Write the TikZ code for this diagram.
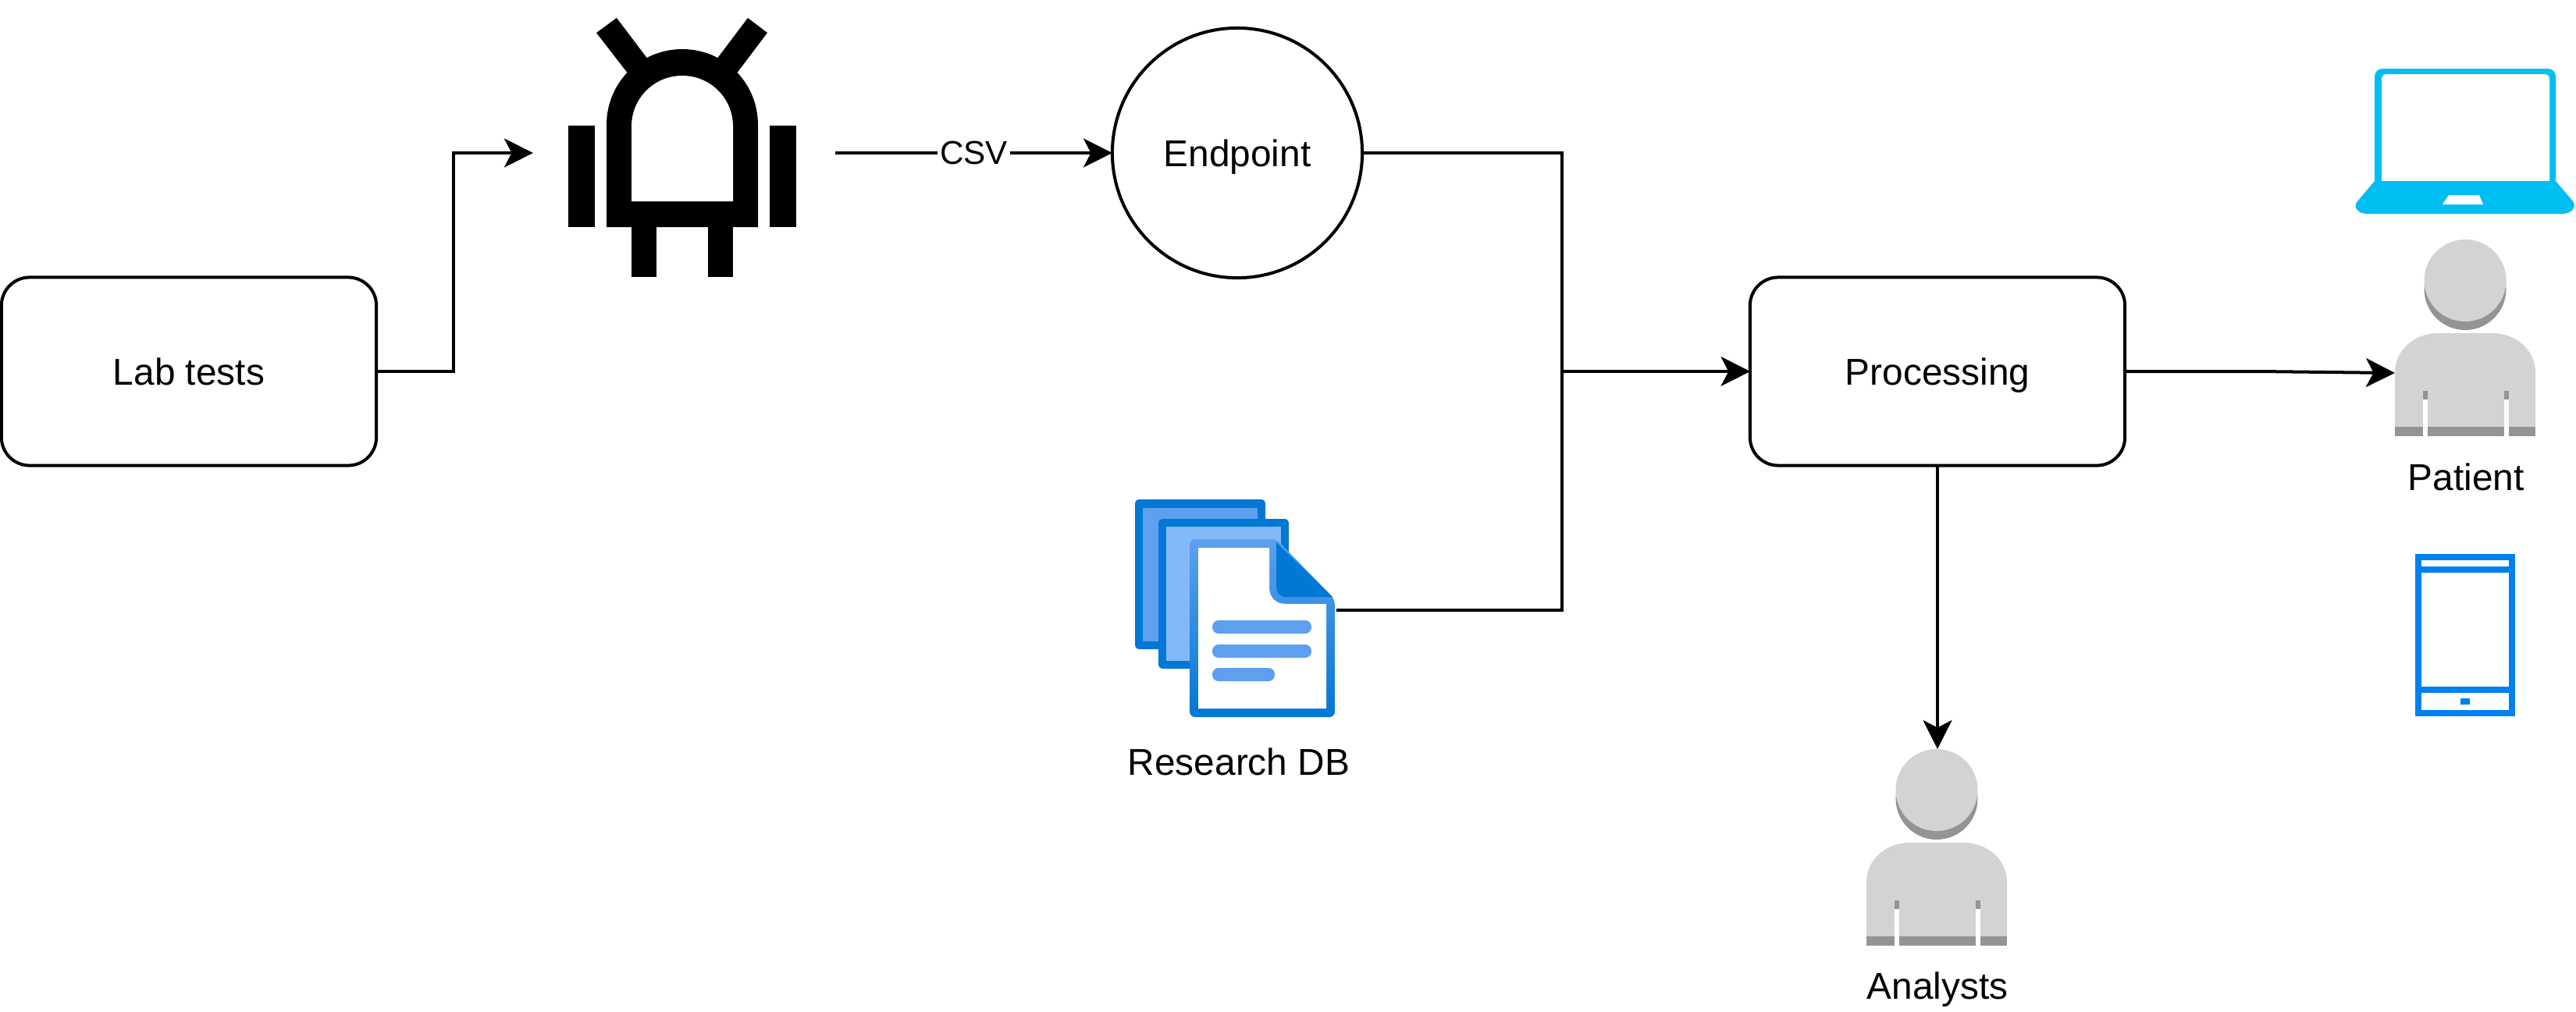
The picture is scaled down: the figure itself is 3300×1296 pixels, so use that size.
\documentclass[tikz,border=0pt]{standalone}
\usepackage{fontspec}
\setmainfont{Liberation Sans}
\usetikzlibrary{arrows.meta}
\usetikzlibrary{calc,positioning}
\definecolor{sheetdark}{HTML}{0078D4}
\definecolor{sheetmid}{HTML}{5EA0EF}
\definecolor{sheetlight}{HTML}{83B9F9}
\definecolor{laptopblue}{HTML}{00BEF2}
\definecolor{phoneblue}{HTML}{0080F0}
\definecolor{personlight}{HTML}{D2D3D3}
\definecolor{persondark}{HTML}{949494}
\tikzset{
    box/.style={draw, line width=1.14pt, outer sep=0pt, rounded corners=0.36cm, minimum width=4.8cm, minimum height=2.41cm},
    label/.style={font=\fontsize{13.6}{16}\selectfont, text height=9.8pt, text depth=0pt},
    link/.style={line width=1.14pt},
    icon/.style={inner sep=0pt, outer sep=0pt},
    person/.pic={
        \fill[persondark] (0,63.5) circle (52.5);
        \node[circle, fill=personlight, icon, minimum size=1.05cm] (-head) at (0,52.5) {};
        \fill[personlight] (-90,240) -- (-90,170) .. controls (-90,142) and (-65,120) .. (-35,120) -- (35,120) .. controls (65,120) and (90,142) .. (90,170) -- (90,240) -- cycle;
        \fill[persondark] (-90,240) rectangle (90,252);
        \fill[persondark] (-54,194) rectangle (-48,205);
        \fill[persondark] (50,194) rectangle (56,205);
        \fill[white] (-54,205) rectangle (-48,252);
        \fill[white] (50,205) rectangle (56,252);
        \node[icon, minimum width=1.8cm, minimum height=1.02cm] (-body) at (0,171) {};
    }
}

\begin{document}
\begin{tikzpicture}[>={Stealth[length=10.5pt, width=10.5pt, inset=2.7pt]}, x=0.01cm, y=-0.01cm]
    \useasboundingbox (0,0) rectangle (3300,1296);

    \node[box, label] (lab) at (242,476) {Lab tests};
    \node[box, label] (processing) at (2482,476) {Processing};
    \node[circle, draw, line width=1.14pt, outer sep=0pt, minimum size=3.2cm, label] (endpoint) at (1585,196) {Endpoint};
    \node[icon, minimum width=3.87cm, minimum height=3.3cm] (robot) at (876.5,196) {};
    \node[icon, minimum width=2.58cm, minimum height=2.8cm] (docs) at (1583,782) {};
    \node[label] (docs text) at (1587,976) {Research DB};

    % robot
    \fill (764,42) -- (790,23) -- (830,76) -- (805,95) -- cycle;
    \fill (958,23) -- (983,42) -- (943,95) -- (918,76) -- cycle;
    \fill (728,161) rectangle (762,291);
    \fill (986,161) rectangle (1020,291);
    \fill (809,291) rectangle (841,355);
    \fill (907,291) rectangle (939,355);
    \fill (777,291) -- (777,160) .. controls (777,106) and (820,63) .. (874,63) .. controls (928,63) and (971,106) .. (971,160) -- (971,291) -- cycle;
    \fill[white] (809,258) -- (809,162) .. controls (809,126) and (838,97) .. (874,97) .. controls (910,97) and (939,126) .. (939,162) -- (939,258) -- cycle;

    % document stack
    \fill[sheetdark, rounded corners=0.05cm] (1454,640) rectangle (1621,832);
    \fill[sheetmid] (1464,651) rectangle (1611,822);
    \fill[sheetdark, rounded corners=0.05cm] (1484,665) rectangle (1651,857);
    \fill[sheetlight] (1494,675) rectangle (1641,847);
    \shade[top color=sheetmid, bottom color=sheetdark, rounded corners=0.07cm] (1524,691) -- (1635,691) -- (1710,768) -- (1710,919) -- (1524,919) -- cycle;
    \fill[white] (1535,702) -- (1626,702) -- (1626,753) .. controls (1626,766) and (1635,774) .. (1647,774) -- (1699,774) -- (1699,908) -- (1535,908) -- cycle;
    \fill[sheetdark] (1635,695) -- (1707,765) -- (1647,765) .. controls (1640,765) and (1635,760) .. (1635,753) -- cycle;
    \fill[sheetmid, rounded corners=0.08cm] (1553,795) rectangle (1680,812);
    \fill[sheetmid, rounded corners=0.08cm] (1553,826) rectangle (1680,843);
    \fill[sheetmid, rounded corners=0.08cm] (1553,856) rectangle (1633,873);

    % laptop
    \fill[laptopblue, rounded corners=0.1cm] (3042,240) -- (3042,88) -- (3274,88) -- (3274,240) -- cycle;
    \fill[white, rounded corners=0.06cm] (3051,240) -- (3051,95) -- (3266,95) -- (3266,240) -- cycle;
    \fill[laptopblue] (3042,232) -- (3020,258) .. controls (3014,265) and (3020,274) .. (3033,274) -- (3282,274) .. controls (3295,274) and (3301,265) .. (3296,258) -- (3274,232) -- cycle;
    \fill[white] (3137,250) -- (3176,250) -- (3181,262) -- (3129,262) -- cycle;

    % phone
    \fill[phoneblue] (3094,710) rectangle (3222,918);
    \fill[white] (3102,718) rectangle (3214,726);
    \fill[white] (3102,734) rectangle (3214,880);
    \fill[white] (3102,888) rectangle (3214,910);
    \fill[phoneblue] (3152,895) rectangle (3164,903);

    \pic (patient) at (3158,307) {person};
    \pic (analysts) at (2481,960) {person};
    \node[label] (patient text) at (3159,611) {Patient};
    \node[label] (analysts text) at (2482,1263) {Analysts};

    \draw[->, link] (lab.east) -- ++(99,0) |- (robot.west);
    \draw[->, link] (robot.east) -- node[fill=white, inner sep=1pt, font=\fontsize{12}{14}\selectfont] (csv) {CSV} (endpoint.west);
    \draw[->, link] (endpoint.east) -- (2001,196) |- (processing.west);
    \draw[->, link] (docs.east) -- (2001,782) |- (processing.west);
    \draw[->, link] (processing.east) -- (2895,476) -- (patient-body.west);
    \draw[->, link] (processing.south) -- (analysts-head.north -| processing.south);
\end{tikzpicture}
\end{document}
